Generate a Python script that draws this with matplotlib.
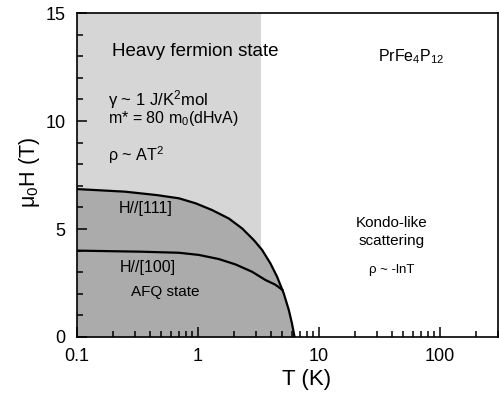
import matplotlib
matplotlib.use("Agg")
import matplotlib.pyplot as plt
from matplotlib.ticker import FixedLocator, NullFormatter

plt.rcParams['font.family'] = ['Liberation Sans', 'DejaVu Sans']
plt.rcParams['mathtext.fontset'] = 'custom'
plt.rcParams['mathtext.rm'] = 'Liberation Sans'
plt.rcParams['mathtext.it'] = 'Liberation Sans'

# phase boundary, H//[111]
T_111 = [0.1, 0.25, 0.46, 0.7, 0.96, 1.31, 1.8, 2.32, 2.9, 3.4, 3.98, 4.52,
         5.13, 5.65, 6.0, 6.3]
H_111 = [6.85, 6.73, 6.57, 6.42, 6.19, 5.88, 5.49, 5.03, 4.49, 4.03, 3.41, 2.79,
         2.02, 1.25, 0.63, 0.0]

# phase boundary, H//[100] (joins the [111] line near 5 K)
T_100 = [0.1, 0.34, 0.7, 1.02, 1.49, 2.05, 2.81, 3.62, 4.38, 5.0]
H_100 = [4.0, 3.95, 3.90, 3.80, 3.61, 3.36, 3.02, 2.64, 2.42, 2.18]

T_heavy = 3.3   # upper end of heavy fermion region

xticks = [0.1, 1, 10, 100]
xticklabels = ['0.1', '1', '10', '100']
yticks = [0, 5, 10, 15]

fig = plt.figure(figsize=(4.99, 3.96), dpi=100)
ax = fig.add_axes([0.154, 0.149, 0.843, 0.818])

ax.axvspan(0.1, T_heavy, color='#d6d6d6', lw=0, zorder=0)
ax.fill_between(T_111, 0, H_111, color='#ababab', lw=0, zorder=1)
ax.plot(T_111, H_111, color='black', lw=1.6, zorder=3)
ax.plot(T_100, H_100, color='black', lw=1.6, zorder=3)

ax.set_xscale('log')
ax.set_xlim(0.1, 300)
ax.set_ylim(0, 15)

ax.xaxis.set_major_locator(FixedLocator(xticks))
ax.set_xticklabels(xticklabels)
minors = [m * 10.0**e for e in range(-1, 3) for m in range(2, 10)]
ax.xaxis.set_minor_locator(FixedLocator(minors))
ax.xaxis.set_minor_formatter(NullFormatter())
ax.set_yticks(yticks)
ax.yaxis.set_minor_locator(FixedLocator(range(0, 16)))

ax.tick_params(which='both', direction='in', top=False, right=False,
               labelsize=13, pad=8, width=1.1)
ax.tick_params(which='major', length=7)
ax.tick_params(which='minor', length=4)
for s in ax.spines.values():
    s.set_linewidth(1.2)

ax.set_xlabel('T (K)', fontsize=16)
ax.xaxis.set_label_coords(0.546, -0.1)
ax.set_ylabel('\u03bc$_0$H (T)', fontsize=15.5)
ax.yaxis.set_label_coords(-0.082, 0.507)

ax.text(0.195, 13.2, 'Heavy fermion state', fontsize=13.5, va='center')
ax.text(0.18, 11.0, '\u03b3 ~ 1 J/K$^2$mol', fontsize=12, va='center')
ax.text(0.18, 10.1, 'm* = 80 m$_0$(dHvA)', fontsize=11.5, va='center')
ax.text(0.18, 8.4, '\u03c1 ~ AT$^2$', fontsize=11.6, va='center')
ax.text(0.22, 5.97, 'H//[111]', fontsize=11.5, va='center')
ax.text(0.225, 3.24, 'H//[100]', fontsize=11.5, va='center')
ax.text(0.28, 2.08, 'AFQ state', fontsize=11, va='center')
ax.text(31, 13.0, 'PrFe$_4$P$_{12}$', fontsize=11.5, va='center')
ax.text(40, 5.3, 'Kondo-like', fontsize=11, va='center', ha='center')
ax.text(40, 4.45, 'scattering', fontsize=11, va='center', ha='center')
ax.text(40, 3.1, '\u03c1 ~ -lnT', fontsize=9.5, va='center', ha='center')

fig.savefig('out.png', dpi=100)
